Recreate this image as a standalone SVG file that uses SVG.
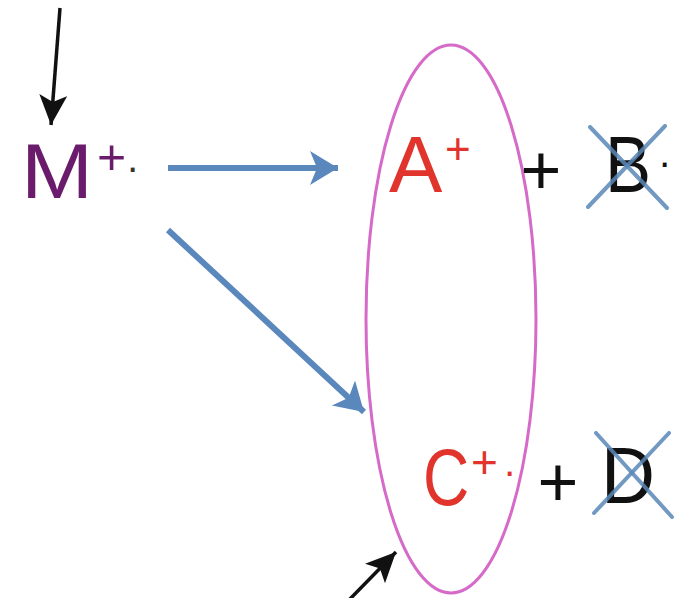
<svg xmlns="http://www.w3.org/2000/svg" width="675" height="598" viewBox="0 0 675 598">
<style>
.t{font-family:"Liberation Sans",Arial,sans-serif}
.red{fill:#e0342c}
.blk{fill:#111}
.cross{stroke:#5a88b8;stroke-width:4;stroke-linecap:round;opacity:0.85}
.blue{stroke:#5a88bd;stroke-width:6;fill:none}
.black{stroke:#111;stroke-width:3.5;fill:none}
</style>
<defs>
<marker id="bh" markerUnits="userSpaceOnUse" markerWidth="32" markerHeight="38" refX="28" refY="17" orient="auto">
<path d="M0,0 L28,17 L0,34 L7,17 Z" fill="#5a88bd"/>
</marker>
<marker id="kh" markerUnits="userSpaceOnUse" markerWidth="34" markerHeight="32" refX="30" refY="14" orient="auto">
<path d="M0,0 L30,14 L0,28 L7,14 Z" fill="#111"/>
</marker>
</defs>
<g id="connectors">
<line class="black" x1="60" y1="8" x2="51" y2="125" marker-end="url(#kh)"/>
<line class="blue" x1="168" y1="168" x2="338" y2="168" marker-end="url(#bh)"/>
<line class="blue" x1="168" y1="230" x2="364" y2="412" marker-end="url(#bh)"/>
<line class="black" x1="349" y1="600" x2="396" y2="552" marker-end="url(#kh)"/>
</g>
<g id="ellipse">
<ellipse cx="451" cy="319" rx="85" ry="274" fill="none" stroke="#d56ac8" stroke-width="3"/>
</g>
<g id="M">
<text class="t" x="21" y="198" font-size="78" fill="#6a1b6b" textLength="72" lengthAdjust="spacingAndGlyphs">M</text>
<text class="t" x="97" y="174" font-size="50" fill="#6a1b6b">+</text>
<text class="t" x="126" y="181" font-size="40" fill="#333">·</text>
</g>
<g id="A">
<text class="t red" x="389" y="192" font-size="80">A</text>
<text class="t red" x="445" y="164" font-size="44">+</text>
</g>
<g id="plus1">
<text class="t blk" x="541" y="194" font-size="70" text-anchor="middle">+</text>
</g>
<g id="B">
<text class="t blk" x="605" y="192" font-size="80" textLength="46" lengthAdjust="spacingAndGlyphs">B</text>
<text class="t blk" x="658" y="176" font-size="40">·</text>
<line class="cross" x1="590" y1="127" x2="667" y2="208"/>
<line class="cross" x1="588" y1="207" x2="665" y2="126"/>
</g>
<g id="C">
<text class="t red" font-size="80" transform="translate(423,505) scale(0.8,1)">C</text>
<text class="t red" x="471" y="478" font-size="46">+</text>
<text class="t red" x="503" y="485" font-size="40">·</text>
</g>
<g id="plus2">
<text class="t blk" x="558" y="506" font-size="70" text-anchor="middle">+</text>
</g>
<g id="D">
<text class="t blk" x="601" y="503" font-size="80" textLength="54" lengthAdjust="spacingAndGlyphs">D</text>
<line class="cross" x1="596" y1="433" x2="672" y2="517"/>
<line class="cross" x1="594" y1="513" x2="669" y2="433"/>
</g>
</svg>
